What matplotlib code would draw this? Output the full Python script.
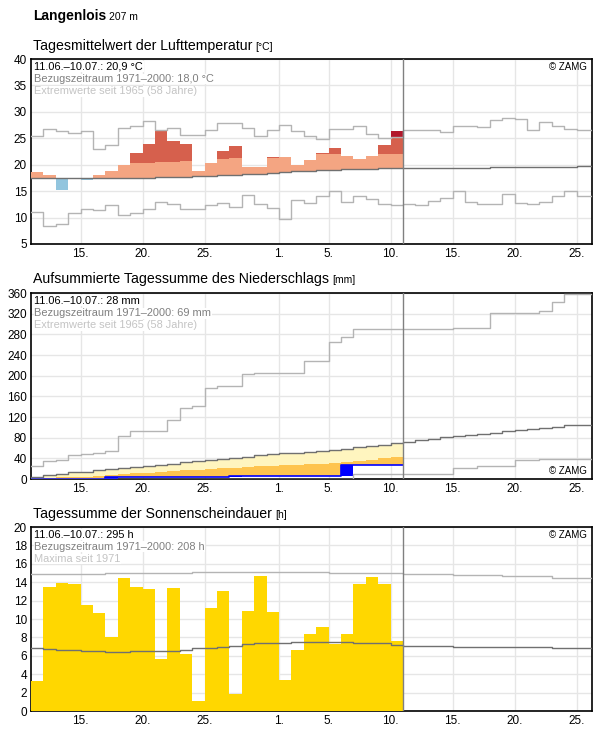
import matplotlib
matplotlib.use('Agg')
import matplotlib.pyplot as plt
import numpy as np

plt.rcParams['font.family'] = ['Liberation Sans', 'DejaVu Sans']

# day index 0 = 11.06., 20 = 1.07.
tick_pos = [4, 9, 14, 20, 24, 29, 34, 39, 44]
tick_lab = ['15.', '20.', '25.', '1.', '5.', '10.', '15.', '20.', '25.']
today = 30

# temperature (°C)
temp = [18.7, 18.1, 15.3, 17.5, 17.1, 18.1, 18.9, 20.0, 22.3, 24.0, 26.4, 24.4, 24.0, 18.9, 20.4,
        22.5, 23.6, 19.5, 19.5, 21.5, 21.5, 20.0, 20.8, 22.2, 23.2, 21.7, 21.1, 21.7, 23.8, 26.3]
temp_clim = [17.5, 17.5, 17.5, 17.5, 17.4, 17.4, 17.4, 17.4, 17.5, 17.5, 17.6, 17.6, 17.7, 17.8, 17.9,
             18.0, 18.1, 18.2, 18.3, 18.5, 18.6, 18.8, 18.9, 19.0, 19.0, 19.1, 19.2, 19.2, 19.3, 19.3,
             19.4, 19.4, 19.4, 19.4, 19.4, 19.4, 19.4, 19.5, 19.5, 19.5, 19.5, 19.5, 19.5, 19.5, 19.7, 19.7]
temp_upper = [20.3, 20.3, 20.3, 20.3, 20.2, 20.2, 20.2, 20.2, 20.4, 20.4, 20.5, 20.5, 20.7, 20.7, 20.7,
              21.1, 21.3, 21.0, 21.1, 21.3, 21.4, 21.6, 21.7, 22.0, 22.0, 22.0, 22.0, 22.0, 22.0, 22.0]
temp_max = [25.4, 26.8, 26.3, 26.0, 26.4, 23.0, 23.7, 26.9, 27.3, 28.3, 26.6, 26.9, 25.6, 25.6, 26.6,
            27.8, 27.9, 26.9, 25.4, 26.6, 27.6, 26.4, 25.4, 24.9, 26.8, 26.8, 27.3, 25.8, 25.1, 25.2,
            26.5, 26.5, 26.5, 26.1, 27.3, 27.3, 27.1, 28.4, 28.8, 28.6, 26.5, 28.1, 27.4, 26.7, 26.5, 26.5]
temp_min = [11.0, 8.5, 8.7, 10.9, 11.6, 11.4, 12.3, 10.5, 10.9, 11.6, 12.9, 12.6, 11.6, 11.6, 12.4,
            12.8, 12.0, 14.3, 12.6, 11.8, 9.7, 13.3, 12.8, 14.0, 15.0, 12.9, 14.1, 13.5, 12.6, 12.4,
            12.5, 12.3, 13.2, 13.7, 15.0, 13.0, 12.6, 12.6, 14.4, 12.7, 12.5, 13.0, 14.1, 15.0, 14.1, 14.1]

# precipitation, cumulative (mm)
prec = [0, 0, 0, 0, 0, 0, 3, 3, 3, 3, 3, 3, 3, 3, 3, 3, 5, 5, 5, 5, 5, 5, 5, 5, 5, 28, 28, 28, 28, 28]
prec_clim = [4, 8.4, 10.4, 14.2, 14.2, 16.8, 20, 22, 24, 26, 28, 30, 33.7, 35.6, 37.6, 39.5, 41.5, 43.4,
             46, 49, 51, 51, 53, 55, 57, 59, 61, 63, 65, 69, 72.5, 75, 78, 82, 84, 86, 88, 90, 92, 94.5,
             96.5, 98.4, 101, 103.6, 103.6, 103.6]
prec_lower = [0, 2, 3, 3, 4, 5, 8, 10, 11, 12, 13, 15, 17, 18, 20, 21, 22, 23, 25, 26, 27, 28, 29, 30,
              31, 32, 35, 37, 40, 42]
prec_max = [26, 34, 37.6, 47, 49, 51, 55, 84, 92.6, 92.6, 92.6, 114, 137, 141, 175.5, 180, 180, 203,
            204.7, 204.7, 204.7, 204.7, 228, 228, 265.5, 275, 291, 291, 291, 291, 291, 291, 291, 291,
            292, 292, 292, 321, 321, 321, 321, 324.5, 342.6, 357.5, 359, 359]
prec_min = [0] * 26 + [10] * 8 + [22, 22, 26, 26, 26, 36, 36, 38, 38, 38, 38, 38]

# sunshine (h)
sun = [3.3, 13.5, 13.9, 13.8, 11.5, 10.7, 8.0, 14.5, 13.5, 13.3, 5.7, 13.4, 6.2, 1.1, 11.2, 13.0, 1.9,
       10.9, 14.7, 10.8, 3.4, 6.6, 8.4, 9.1, 7.3, 8.4, 13.8, 14.6, 13.8, 7.6]
sun_clim = [6.9, 6.7, 6.6, 6.6, 6.5, 6.5, 6.4, 6.4, 6.5, 6.5, 6.5, 6.5, 6.6, 6.8, 6.9, 7.0, 7.1, 7.3,
            7.4, 7.4, 7.4, 7.5, 7.5, 7.5, 7.5, 7.5, 7.4, 7.4, 7.4, 7.2, 7.1, 7.1, 7.1, 7.1, 7.0, 7.0,
            7.0, 7.0, 7.0, 7.0, 7.0, 7.0, 6.9, 6.9, 6.9, 6.9]
sun_max = [14.85] * 6 + [14.95] * 7 + [15.1] * 11 + [15.0] * 6 + [14.85] * 4 + [14.8] * 4 + \
          [14.7] * 4 + [14.5] * 4 + [14.3] * 4


def step_line(ax, vals, color, lw=1.0):
    x = np.arange(len(vals) + 1)
    y = list(vals) + [vals[-1]]
    ax.plot(x, y, drawstyle='steps-post', color=color, lw=lw, zorder=4)


def setup(ax, ylim, yticks):
    ax.set_xlim(0, 45.25)
    ax.set_ylim(*ylim)
    ax.set_yticks(yticks)
    ax.set_xticks(tick_pos)
    ax.set_xticklabels(tick_lab)
    ax.grid(True, color='#e6e6e6', lw=1)
    ax.set_axisbelow(True)
    ax.tick_params(length=0, labelsize=8.5, pad=3)
    for s in ax.spines.values():
        s.set_linewidth(1.2)
    ax.axvline(today, color='#808080', lw=1, zorder=5)


def info(ax, lines, zamg_top=True):
    cols = ['black', '#808080', '#c4c4c4']
    for i, (t, c) in enumerate(zip(lines, cols)):
        ax.text(0.006, 0.985 - i * 0.066, t, transform=ax.transAxes, va='top', ha='left',
                fontsize=7.9, color=c, zorder=6,
                bbox=dict(facecolor='white', edgecolor='none', pad=0.3))
    y = 0.985 if zamg_top else 0.015
    ax.text(0.99, y, '© ZAMG', transform=ax.transAxes, va='top' if zamg_top else 'bottom',
            ha='right', fontsize=7, zorder=6)


fig = plt.figure(figsize=(5.96, 7.29), dpi=100)
W, H = 596, 729
renderer = fig.canvas.get_renderer()


def add_ax(top, bottom):
    return fig.add_axes([31 / W, 1 - bottom / H, (592 - 31) / W, (bottom - top) / H])


def title(y, main, unit, size=10.2, bold=False):
    t = fig.text(33 / W, 1 - y / H, main, fontsize=size, va='baseline',
                 fontweight='bold' if bold else 'normal')
    x1 = t.get_window_extent(renderer).x1
    fig.text((x1 + 3) / W, 1 - y / H, unit, fontsize=7.5, va='baseline')


title(20, 'Langenlois', '207 m', size=10, bold=True)

# temperature panel
ax1 = add_ax(59, 244)
setup(ax1, (5, 40), range(5, 41, 5))
for i in range(len(temp)):
    t, c, p, m = temp[i], temp_clim[i], temp_upper[i], temp_max[i]
    if t >= c:
        ax1.bar(i, min(t, p) - c, bottom=c, width=1, align='edge', color='#f4a582', zorder=3)
        if t > p:
            ax1.bar(i, min(t, m) - p, bottom=p, width=1, align='edge', color='#d6604d', zorder=3)
        if t > m:
            ax1.bar(i, t - m, bottom=m, width=1, align='edge', color='#b2182b', zorder=3)
    else:
        ax1.bar(i, c - t, bottom=t, width=1, align='edge', color='#92c5de', zorder=3)
step_line(ax1, temp_max, '#b4b4b4')
step_line(ax1, temp_min, '#b4b4b4')
step_line(ax1, temp_clim, '#707070')
info(ax1, ['11.06.–10.07.: 20,9 °C', 'Bezugszeitraum 1971–2000: 18,0 °C',
           'Extremwerte seit 1965 (58 Jahre)'])
title(50, 'Tagesmittelwert der Lufttemperatur', '[°C]')

# precipitation panel
ax2 = add_ax(293, 479)
setup(ax2, (0, 360), range(0, 361, 40))
for i in range(len(prec)):
    a, c, lo = prec[i], prec_clim[i], prec_lower[i]
    if c > a:
        ax2.bar(i, c - max(a, lo), bottom=max(a, lo), width=1, align='edge', color='#fff5bf', zorder=3)
        if lo > a:
            ax2.bar(i, lo - a, bottom=a, width=1, align='edge', color='#fec44f', zorder=3)
    prev = prec[i - 1] if i > 0 else 0
    if a > prev:
        ax2.bar(i, a - prev, bottom=prev, width=1, align='edge', color='#0000ff', zorder=3)
step_line(ax2, prec, '#0000ff', lw=1.2)
step_line(ax2, prec_max, '#b4b4b4')
step_line(ax2, prec_min, '#b4b4b4')
step_line(ax2, prec_clim, '#707070')
info(ax2, ['11.06.–10.07.: 28 mm', 'Bezugszeitraum 1971–2000: 69 mm',
           'Extremwerte seit 1965 (58 Jahre)'], zamg_top=False)
title(283, 'Aufsummierte Tagessumme des Niederschlags', '[mm]')

# sunshine panel
ax3 = add_ax(527, 711)
setup(ax3, (0, 20), range(0, 21, 2))
ax3.bar(np.arange(len(sun)), sun, width=1, align='edge', color='#ffd700', zorder=3)
step_line(ax3, sun_max, '#b4b4b4')
step_line(ax3, sun_clim, '#707070')
info(ax3, ['11.06.–10.07.: 295 h', 'Bezugszeitraum 1971–2000: 208 h', 'Maxima seit 1971'])
title(518, 'Tagessumme der Sonnenscheindauer', '[h]')

fig.savefig('out.png', dpi=100)
